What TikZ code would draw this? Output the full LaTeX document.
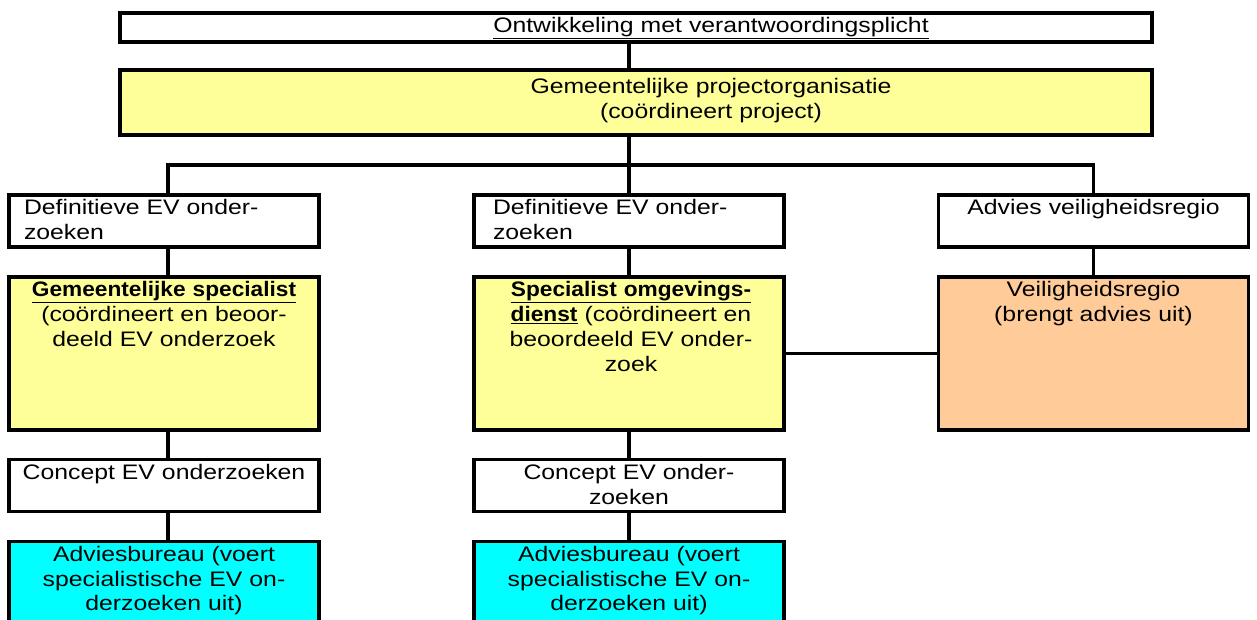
\documentclass[tikz,border=0pt]{standalone}
\usepackage{fontspec}
\setmainfont{Liberation Sans}[FakeStretch=1.18, BoldFeatures={FakeStretch=1.08}]
\definecolor{lichtgeel}{HTML}{FFFF99}
\definecolor{zalm}{HTML}{FFCC99}
\definecolor{cyaan}{HTML}{00FFFF}

\begin{document}
\begin{tikzpicture}[x=1pt, y=-1pt, line width=3.4pt,
	blok/.style={draw, line width=3.4pt, minimum width=310pt, inner sep=0pt},
	tekst/.style={inner sep=0pt, text width=300pt, align=center, font=\fontsize{21pt}{24.8pt}\selectfont}]
	\useasboundingbox (0,0) rectangle (1257,619);

	% Top boxes
	\node[blok, minimum width=1032pt, minimum height=29pt] (ontw) at (636,27.5) {};
	\node[blok, fill=lichtgeel, minimum width=1032pt, minimum height=65pt] (proj) at (636,102.5) {};

	% Row of products
	\node[blok, minimum height=52pt] (defL) at (164,221) {};
	\node[blok, minimum height=52pt] (defM) at (629,221) {};
	\node[blok, minimum height=52pt] (defR) at (1093.5,221) {};

	% Row of parties
	\node[blok, fill=lichtgeel, minimum height=153pt] (specL) at (164,353.5) {};
	\node[blok, fill=lichtgeel, minimum height=153pt] (specM) at (629,353.5) {};
	\node[blok, fill=zalm, minimum height=153pt] (regio) at (1093.5,353.5) {};

	% Concepts and consultants
	\node[blok, minimum height=52pt] (concL) at (164,485.5) {};
	\node[blok, minimum height=52pt] (concM) at (629,485.5) {};
	\node[blok, fill=cyaan, minimum height=81pt] (advL) at (164,582) {};
	\node[blok, fill=cyaan, minimum height=81pt] (advM) at (629,582) {};

	% Texts
	\node[tekst, text width=500pt, anchor=north] (ontw-t) at ([xshift=75pt, yshift=-4pt]ontw.north) {\underline{Ontwikkeling met verantwoordingsplicht}};
	\node[tekst, text width=500pt, anchor=north] (proj-t) at ([xshift=75pt, yshift=-8pt]proj.north) {Gemeentelijke projectorganisatie\\(coördineert project)};
	\node[tekst, align=left, anchor=north west] (defL-t) at ([xshift=15pt, yshift=-4.5pt]defL.north west) {Definitieve EV onder-\\zoeken};
	\node[tekst, align=left, anchor=north west] (defM-t) at ([xshift=19pt, yshift=-4.5pt]defM.north west) {Definitieve EV onder-\\zoeken};
	\node[tekst, anchor=north] (defR-t) at ([yshift=-4.5pt]defR.north) {Advies veiligheidsregio};
	\node[tekst, anchor=north] (specL-t) at ([yshift=-4.5pt]specL.north) {\textbf{\underline{Gemeentelijke specialist}}\\(coördineert en beoor-\\deeld EV onderzoek};
	\node[tekst, anchor=north] (specM-t) at ([xshift=2pt, yshift=-4.5pt]specM.north) {\textbf{\underline{Specialist omgevings-}}\\\textbf{\underline{dienst}} (coördineert en\\beoordeeld EV onder-\\zoek};
	\node[tekst, anchor=north] (regio-t) at ([yshift=-4.5pt]regio.north) {Veiligheidsregio\\(brengt advies uit)};
	\node[tekst, anchor=north] (concL-t) at ([yshift=-4.5pt]concL.north) {Concept EV onderzoeken};
	\node[tekst, anchor=north] (concM-t) at ([yshift=-4.5pt]concM.north) {Concept EV onder-\\zoeken};
	\node[tekst, anchor=north] (advL-t) at ([yshift=-4.5pt]advL.north) {Adviesbureau (voert\\specialistische EV on-\\derzoeken uit)};
	\node[tekst, anchor=north] (advM-t) at ([yshift=-4.5pt]advM.north) {Adviesbureau (voert\\specialistische EV on-\\derzoeken uit)};

	% Connectors
	\coordinate (bus) at (629,165);
	\draw (ontw.south -| bus) -- (proj.north -| bus);
	\draw (proj.south -| bus) -- (defM.north);
	\draw ([xshift=4pt]defL.north) |- (bus) -| (defR.north);
	\draw ([xshift=4pt]defL.south) -- ([xshift=4pt]specL.north);
	\draw ([xshift=4pt]specL.south) -- ([xshift=4pt]concL.north);
	\draw ([xshift=4pt]concL.south) -- ([xshift=4pt]advL.north);
	\draw (defM.south) -- (specM.north);
	\draw (specM.south) -- (concM.north);
	\draw (concM.south) -- (advM.north);
	\draw (defR.south) -- (regio.north);
	\draw (specM.east) -- (regio.west);
\end{tikzpicture}
\end{document}
